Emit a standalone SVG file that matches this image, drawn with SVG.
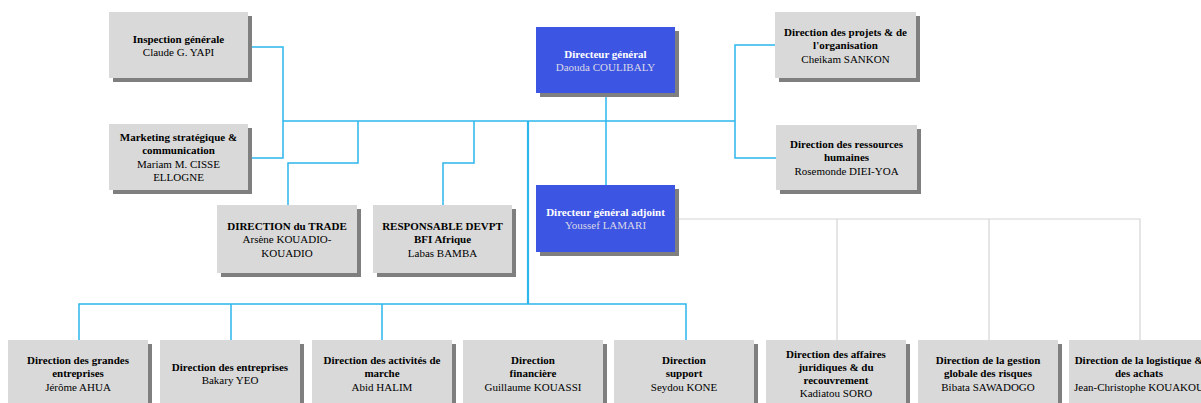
<svg xmlns="http://www.w3.org/2000/svg" width="1201" height="403" viewBox="0 0 1201 403">
<style>
.bg{fill:#ffffff}
.sh{fill:#7f7f7f}
.gb{fill:#d9d9d9}
.bb{fill:#3d55e3}
text{font-family:"Liberation Serif","Times New Roman",serif;font-size:11px;text-anchor:middle}
.t{font-weight:bold;fill:#000}
.n{fill:#000}
.tw{font-weight:bold;fill:#ffffff}
.nw{fill:#d8d8e8}
.c{fill:none;stroke:#2db6ec;stroke-width:1.5}
.ct{fill:none;stroke:#2db6ec;stroke-width:2.2}
.cg{fill:none;stroke:#d4d4d4;stroke-width:1.2}
</style>
<rect class="bg" x="0" y="0" width="1201" height="403"/>
<g id="connectors">
<path class="c" d="M248,47 H283 V158 H248"/>
<path class="c" d="M283,121 H735"/>
<path class="c" d="M775,45 H735 V158 H776"/>
<path class="c" d="M358,121 V163 H288 V205"/>
<path class="c" d="M474,121 V163 H443 V205"/>
<path class="c" d="M606,93 V185"/>
<path class="ct" d="M528,121 V304"/>
<path class="c" d="M79,340 V304 H686 V340"/>
<path class="c" d="M231,304 V340 M382,304 V340"/>
<path class="cg" d="M675,219 H1140 V340 M837,219 V340 M989,219 V340"/>
</g>
<g id="inspection">
<rect class="sh" x="113" y="16" width="139" height="66"/>
<rect class="gb" x="109" y="12" width="139" height="66"/>
<text x="178.5" y="42.5"><tspan class="t">Inspection générale</tspan><tspan class="n" x="178.5" dy="13.5">Claude G. YAPI</tspan></text>
</g>
<g id="marketing">
<rect class="sh" x="113" y="128" width="139" height="66"/>
<rect class="gb" x="109" y="124" width="139" height="66"/>
<text x="178.5" y="140.5"><tspan class="t">Marketing stratégique &amp;</tspan><tspan class="t" x="178.5" dy="13.5">communication</tspan><tspan class="n" x="178.5" dy="13.5">Mariam M. CISSE</tspan><tspan class="n" x="178.5" dy="13.5">ELLOGNE</tspan></text>
</g>
<g id="dg">
<rect class="sh" x="540" y="31" width="139" height="66"/>
<rect class="bb" x="536" y="27" width="139" height="66"/>
<text x="605.5" y="57.5"><tspan class="tw">Directeur général</tspan><tspan class="nw" x="605.5" dy="13.5">Daouda COULIBALY</tspan></text>
</g>
<g id="dga">
<rect class="sh" x="540" y="189" width="139" height="67"/>
<rect class="bb" x="536" y="185" width="139" height="67"/>
<text x="605.5" y="215.5"><tspan class="tw">Directeur général adjoint</tspan><tspan class="nw" x="605.5" dy="13.5">Youssef LAMARI</tspan></text>
</g>
<g id="projets">
<rect class="sh" x="779" y="16" width="141" height="66"/>
<rect class="gb" x="775" y="12" width="141" height="66"/>
<text x="845.5" y="35.5"><tspan class="t">Direction des projets &amp; de</tspan><tspan class="t" x="845.5" dy="13.5">l'organisation</tspan><tspan class="n" x="845.5" dy="13.5">Cheikam SANKON</tspan></text>
</g>
<g id="rh">
<rect class="sh" x="780" y="129" width="141" height="65"/>
<rect class="gb" x="776" y="125" width="141" height="65"/>
<text x="846.5" y="147.5"><tspan class="t">Direction des ressources</tspan><tspan class="t" x="846.5" dy="13.5">humaines</tspan><tspan class="n" x="846.5" dy="13.5">Rosemonde DIEI-YOA</tspan></text>
</g>
<g id="trade">
<rect class="sh" x="221" y="209" width="140" height="68"/>
<rect class="gb" x="217" y="205" width="140" height="68"/>
<text x="287" y="229.5"><tspan class="t">DIRECTION du TRADE</tspan><tspan class="n" x="287" dy="13.5">Arsène KOUADIO-</tspan><tspan class="n" x="287" dy="13.5">KOUADIO</tspan></text>
</g>
<g id="devpt">
<rect class="sh" x="377" y="209" width="139" height="68"/>
<rect class="gb" x="373" y="205" width="139" height="68"/>
<text x="442.5" y="229.5"><tspan class="t">RESPONSABLE DEVPT</tspan><tspan class="t" x="442.5" dy="13.5">BFI Afrique</tspan><tspan class="n" x="442.5" dy="13.5">Labas BAMBA</tspan></text>
</g>
<g id="grandes-entreprises">
<rect class="sh" x="12" y="344" width="140" height="66"/>
<rect class="gb" x="8" y="340" width="140" height="66"/>
<text x="78" y="364"><tspan class="t">Direction des grandes</tspan><tspan class="t" x="78" dy="13.3">entreprises</tspan><tspan class="n" x="78" dy="13.3">Jérôme AHUA</tspan></text>
</g>
<g id="entreprises">
<rect class="sh" x="164" y="344" width="140" height="66"/>
<rect class="gb" x="160" y="340" width="140" height="66"/>
<text x="230" y="370.5"><tspan class="t">Direction des entreprises</tspan><tspan class="n" x="230" dy="13.3">Bakary YEO</tspan></text>
</g>
<g id="activites-marche">
<rect class="sh" x="316" y="344" width="140" height="66"/>
<rect class="gb" x="312" y="340" width="140" height="66"/>
<text x="382" y="364"><tspan class="t">Direction des activités de</tspan><tspan class="t" x="382" dy="13.3">marche</tspan><tspan class="n" x="382" dy="13.3">Abid HALIM</tspan></text>
</g>
<g id="financiere">
<rect class="sh" x="467" y="344" width="140" height="66"/>
<rect class="gb" x="463" y="340" width="140" height="66"/>
<text x="533" y="364"><tspan class="t">Direction</tspan><tspan class="t" x="533" dy="13.3">financière</tspan><tspan class="n" x="533" dy="13.3">Guillaume KOUASSI</tspan></text>
</g>
<g id="support">
<rect class="sh" x="618" y="344" width="140" height="66"/>
<rect class="gb" x="614" y="340" width="140" height="66"/>
<text x="684" y="364"><tspan class="t">Direction</tspan><tspan class="t" x="684" dy="13.3">support</tspan><tspan class="n" x="684" dy="13.3">Seydou KONE</tspan></text>
</g>
<g id="juridiques">
<rect class="sh" x="770" y="344" width="140" height="66"/>
<rect class="gb" x="766" y="340" width="140" height="66"/>
<text x="836" y="357.5"><tspan class="t">Direction des affaires</tspan><tspan class="t" x="836" dy="13.3">juridiques &amp; du</tspan><tspan class="t" x="836" dy="13.3">recouvrement</tspan><tspan class="n" x="836" dy="13.3">Kadiatou SORO</tspan></text>
</g>
<g id="risques">
<rect class="sh" x="922" y="344" width="140" height="66"/>
<rect class="gb" x="918" y="340" width="140" height="66"/>
<text x="988" y="364"><tspan class="t">Direction de la gestion</tspan><tspan class="t" x="988" dy="13.3">globale des risques</tspan><tspan class="n" x="988" dy="13.3">Bibata SAWADOGO</tspan></text>
</g>
<g id="logistique">
<rect class="sh" x="1073" y="344" width="140" height="66"/>
<rect class="gb" x="1069" y="340" width="140" height="66"/>
<text x="1139" y="364"><tspan class="t">Direction de la logistique &amp;</tspan><tspan class="t" x="1139" dy="13.3">des achats</tspan><tspan class="n" x="1139" dy="13.3">Jean-Christophe KOUAKOU</tspan></text>
</g>
</svg>
